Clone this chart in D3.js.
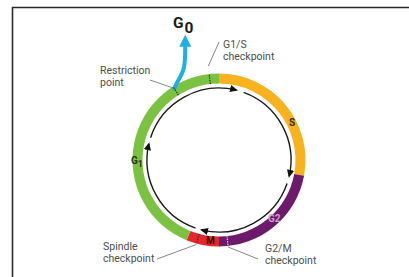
<!DOCTYPE html>
<html>
<head>
<meta charset="utf-8">
<script src="https://cdn.jsdelivr.net/npm/d3@7"></script>
<style>
  html, body { margin: 0; padding: 0; background: #fff; }
  svg { display: block; }
</style>
</head>
<body>
<div id="chart"></div>
<script>
// cell cycle phases, degrees clockwise from 12 o'clock
const phaseNames = ["S", "G2", "M", "G1"];
const phaseStart = [0, 100.5, 180, 202];
const phaseEnd = [100.5, 180, 202, 360];
const phaseColors = ["#f8b21e", "#6e1a6c", "#e5262b", "#7cc242"];

const checkpointNames = ["Restriction point", "G1/S checkpoint", "G2/M checkpoint", "Spindle checkpoint"];
const checkpointAngles = [-32, -6.5, 174, 195];

// inner cycle arrows (start, end) in degrees
const arrowStart = [-72, 20, 109, 199];
const arrowEnd = [14, 103, 194, 283];

const W = 409, H = 277;
const cx = 219, cy = 160;
const rOuter = 86.5, rInner = 76.5, rArrow = 72;

const svg = d3.select("#chart").append("svg")
    .attr("width", W)
    .attr("height", H);

const angle = d3.scaleLinear().domain([0, 360]).range([0, 2 * Math.PI]);
const polar = (deg, r) => {
    const a = angle(deg);
    return [cx + r * Math.sin(a), cy - r * Math.cos(a)];
};

// frame
svg.append("path")
    .attr("d", `M12.5,${H} V7.5 H${W}`)
    .attr("fill", "none")
    .attr("stroke", "#2a2a2a")
    .attr("stroke-width", 1.6);

const defs = svg.append("defs");
defs.append("marker")
    .attr("id", "head")
    .attr("viewBox", "0 -5 10 10")
    .attr("refX", 8)
    .attr("markerWidth", 8)
    .attr("markerHeight", 8)
    .attr("markerUnits", "userSpaceOnUse")
    .attr("orient", "auto")
    .append("path")
    .attr("d", "M0,-4.5L10,0L0,4.5Z")
    .attr("fill", "#111");

const g = svg.append("g");

// ring
const arc = d3.arc().innerRadius(rInner).outerRadius(rOuter);
g.selectAll("path.phase")
    .data(phaseNames)
    .enter()
    .append("path")
    .attr("class", "phase")
    .attr("transform", `translate(${cx},${cy})`)
    .attr("fill", (d, i) => phaseColors[i])
    .attr("d", (d, i) => arc({ startAngle: angle(phaseStart[i]), endAngle: angle(phaseEnd[i]) }));

// inner arrows
g.selectAll("path.cyc")
    .data(arrowStart)
    .enter()
    .append("path")
    .attr("class", "cyc")
    .attr("fill", "none")
    .attr("stroke", "#1a1a1a")
    .attr("stroke-width", 1.4)
    .attr("marker-end", "url(#head)")
    .attr("d", (d, i) => {
        const p = d3.path();
        const a0 = angle(d) - Math.PI / 2, a1 = angle(arrowEnd[i]) - Math.PI / 2;
        p.moveTo(cx + rArrow * Math.cos(a0), cy + rArrow * Math.sin(a0));
        p.arc(cx, cy, rArrow, a0, a1);
        return p.toString();
    });

// G0 exit arrow from restriction point
const [sx, sy] = polar(checkpointAngles[0], rOuter - 2);
const g0Offsets = [[0, 0], [4, -8], [10, -18], [11, -32], [11, -44]];
defs.append("marker")
    .attr("id", "bhead")
    .attr("viewBox", "0 -5 10 10")
    .attr("refX", 2)
    .attr("markerWidth", 12)
    .attr("markerHeight", 12)
    .attr("markerUnits", "userSpaceOnUse")
    .attr("orient", "auto")
    .append("path")
    .attr("d", "M0,-5L10,0L0,5Z")
    .attr("fill", "#1db0e6");
g.append("path")
    .datum(g0Offsets)
    .attr("fill", "none")
    .attr("stroke", "#1db0e6")
    .attr("stroke-width", 4)
    .attr("stroke-linecap", "round")
    .attr("marker-end", "url(#bhead)")
    .attr("d", d3.line().x(d => sx + d[0]).y(d => sy + d[1]).curve(d3.curveBasis));

// checkpoint marks across the ring
g.selectAll("line.cp")
    .data(checkpointAngles)
    .enter()
    .append("line")
    .attr("class", "cp")
    .attr("x1", d => polar(d, rInner)[0])
    .attr("y1", d => polar(d, rInner)[1])
    .attr("x2", d => polar(d, rOuter)[0])
    .attr("y2", d => polar(d, rOuter)[1])
    .attr("stroke", (d, i) => i === 2 ? "#d9c3dc" : "#2b3a1f")
    .attr("stroke-width", 1.2)
    .attr("stroke-dasharray", "1.5,1");

// leader lines and labels
const labelX = [100, 223, 265, 103];
const labelY = [74, 48, 252, 250];
const leaderR = [rOuter - 2, rOuter + 8, rOuter + 1, rOuter + 1];
const leaderEnd = [[150, 80], [219, 42], [258, 259], [157, 259]];

g.selectAll("line.lead")
    .data(checkpointAngles)
    .enter()
    .append("line")
    .attr("x1", (d, i) => polar(d, leaderR[i])[0])
    .attr("y1", (d, i) => polar(d, leaderR[i])[1])
    .attr("x2", (d, i) => leaderEnd[i][0])
    .attr("y2", (d, i) => leaderEnd[i][1])
    .attr("stroke", "#666")
    .attr("stroke-width", 0.8);

const lab = g.selectAll("text.lab")
    .data(checkpointNames)
    .enter()
    .append("text")
    .attr("font-family", "Roboto, sans-serif")
    .attr("font-size", 10.5)
    .attr("fill", "#4d4d4d");
lab.each(function (d, i) {
    const words = d.split(" ");
    d3.select(this).selectAll("tspan")
        .data(words)
        .enter()
        .append("tspan")
        .attr("x", labelX[i])
        .attr("y", (w, j) => labelY[i] + j * 11.5)
        .text(w => w);
});

// phase labels
const phaseLabelPos = [[289, 126], [268, 222], [206, 244], [131, 164]];
const phaseLabelColor = ["#3a2a00", "#c8a0c8", "#2a0a0a", "#1e3a10"];
phaseNames.forEach((name, i) => {
    const t = g.append("text")
        .attr("x", phaseLabelPos[i][0])
        .attr("y", phaseLabelPos[i][1])
        .attr("font-family", "Roboto, sans-serif")
        .attr("font-weight", "bold")
        .attr("font-size", 10)
        .attr("fill", phaseLabelColor[i]);
    if (name === "G1") {
        t.append("tspan").text(name[0]);
        t.append("tspan").attr("dy", 2.5).attr("font-size", 9).text(name.slice(1));
    } else {
        t.text(name);
    }
});

// G0 title
const g0 = g.append("text")
    .attr("x", 173)
    .attr("y", 28)
    .attr("font-family", "Roboto, sans-serif")
    .attr("font-weight", "bold")
    .attr("font-size", 15.5)
    .attr("fill", "#1a1a1a");
g0.append("tspan").text("G");
g0.append("tspan").attr("dx", 1).attr("dy", 5).text("0");
</script>
</body>
</html>
